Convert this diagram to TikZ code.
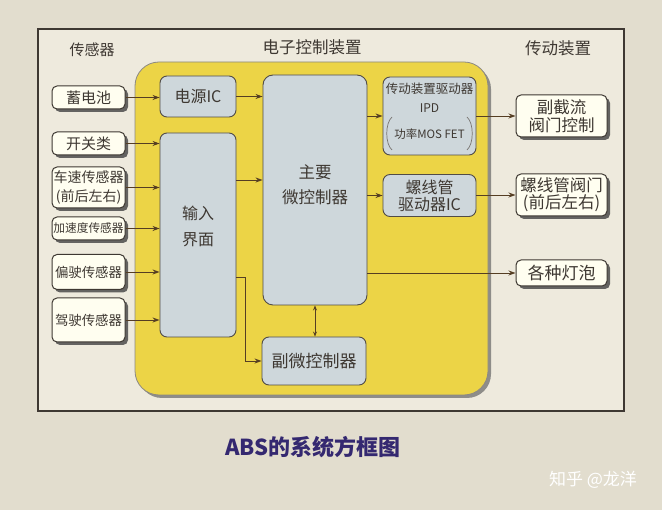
\documentclass[tikz,border=0pt]{standalone}
\usepackage{fontspec}
\setmainfont{Noto Sans CJK SC}
\usetikzlibrary{shadows,arrows.meta}
\definecolor{pagebg}{RGB}{226,221,206}
\definecolor{framebg}{RGB}{238,234,221}
\definecolor{ylw}{RGB}{236,212,70}
\definecolor{lblue}{RGB}{206,215,219}
\definecolor{ink}{RGB}{62,56,50}
\definecolor{lineclr}{RGB}{85,62,35}
\definecolor{titleclr}{RGB}{52,40,112}
\newcommand\fsz[2]{\fontsize{#1}{#2}\selectfont}
\tikzset{
  wbox/.style={draw=ink, line width=1pt, fill=white!94!yellow, rounded corners=5pt,
    drop shadow={shadow xshift=3pt, shadow yshift=-3pt, fill=black!70, opacity=0.85},
    inner sep=0pt, text=ink, align=center, minimum width=73pt},
  rbox/.style={wbox, minimum width=91pt},
  bbox/.style={draw=ink!90, line width=0.9pt, fill=lblue, rounded corners=7pt,
    inner sep=0pt, text=ink, align=center},
  ylwbox/.style={draw=ink!60, line width=0.8pt, fill=ylw, rounded corners=24pt,
    drop shadow={shadow xshift=3pt, shadow yshift=-3pt, fill=black!60, opacity=0.7}, inner sep=0pt},
  txt/.style={text=ink, inner sep=0pt, align=center},
  arr/.style={draw=lineclr, line width=0.9pt, -{Stealth[length=7pt,width=5pt]}},
  dbl/.style={draw=lineclr, line width=0.9pt, {Stealth[length=5pt,width=4pt]}-{Stealth[length=5pt,width=4pt]}},
  brk/.style={draw=ink!70, line width=0.7pt}
}
\begin{document}
\begin{tikzpicture}[x=1pt,y=-1pt]
\useasboundingbox (0,0) rectangle (662,510);
\fill[pagebg] (0,0) rectangle (662,510);
\draw[fill=framebg, draw=ink, line width=1.3pt] (38,29) rectangle (624,411);

% headers
\node[txt, font=\fsz{15}{18}] (h1) at (92,50) {传感器};
\node[txt, font=\fsz{16.5}{20}] (h2) at (312,47) {电子控制装置};
\node[txt, font=\fsz{16.5}{20}] (h3) at (558,48) {传动装置};

% ECU region
\node[ylwbox, minimum width=353pt, minimum height=333pt] (ecu) at (311.5,228.5) {};

% sensors
\node[wbox, minimum height=23pt, font=\fsz{15}{18}] (bat) at (88.5,97.5) {蓄电池};
\node[wbox, minimum height=23pt, font=\fsz{15}{18}] (sw) at (88.5,143.5) {开关类};
\node[wbox, minimum height=41pt, font=\fsz{14}{19}] (spd) at (88.5,187.5) {车速传感器\\(前后左右)};
\node[wbox, minimum height=23pt, font=\fsz{11.7}{14}] (acc) at (88.5,228.5) {加速度传感器};
\node[wbox, minimum height=35pt, font=\fsz{13.4}{16}] (yaw) at (88.5,272) {偏驶传感器};
\node[wbox, minimum height=44pt, font=\fsz{13.4}{16}] (drv) at (88.5,320) {驾驶传感器};

% ECU blocks
\node[bbox, minimum width=76pt, minimum height=41pt, font=\fsz{16}{19}] (pic) at (198,96.5) {电源IC};
\node[bbox, minimum width=76pt, minimum height=204pt] (inp) at (198,235) {};
\node[txt, font=\fsz{16}{26}] (inptxt) at (198,226) {输入\\界面};
\node[bbox, rounded corners=10pt, minimum width=104pt, minimum height=230pt] (main) at (315,190) {};
\node[txt, font=\fsz{16.5}{25}] (maintxt) at (315,185) {主要\\微控制器};
\node[bbox, minimum width=104pt, minimum height=48pt, font=\fsz{17}{20}] (sub) at (314,361) {副微控制器};
\node[bbox, minimum width=93pt, minimum height=78pt] (ipd) at (429.5,116) {};
\node[txt, font=\fsz{12.5}{15}] (ipd1) at (429.5,89) {传动装置驱动器};
\node[txt, font=\fsz{12}{15}] (ipd2) at (429.5,108) {IPD};
\node[txt, font=\fsz{11.5}{14}] (ipd3) at (429.5,134) {功率MOS FET};
\draw[brk] (392,117) .. controls (385,123) and (385,144) .. (392,150);
\draw[brk] (467,117) .. controls (474,123) and (474,144) .. (467,150);
\node[bbox, minimum width=93pt, minimum height=42pt, font=\fsz{16}{17}] (sic) at (429.5,195.5) {螺线管\\驱动器IC};

% actuators
\node[rbox, minimum height=42pt, font=\fsz{16.5}{18}] (valve) at (561.5,116) {副截流\\阀门控制};
\node[rbox, minimum height=42pt, font=\fsz{16.5}{17}] (solv) at (561.5,195) {螺线管阀门\\(前后左右)};
\node[rbox, minimum height=26pt, font=\fsz{17}{20}] (lamp) at (561.5,273) {各种灯泡};

% connectors
\draw[arr] (bat.east) -- (bat.east -| pic.west);
\draw[arr] (pic.east) -- (pic.east -| main.west);
\foreach \s in {sw,spd,acc,yaw,drv} \draw[arr] (\s.east) -- (\s.east -| inp.west);
\coordinate (c1) at (0,180);
\draw[arr] (inp.east |- c1) -- (main.west |- c1);
\coordinate (c2) at (245,277);
\draw[arr] (inp.east |- c2) -- (c2) |- (sub.west);
\draw[dbl] (main.south) -- (main.south |- sub.north);
\draw[arr] (main.east |- ipd.west) -- (ipd.west);
\draw[arr] (main.east |- sic.west) -- (sic.west);
\draw[arr] (ipd.east) -- (valve.west);
\draw[arr] (sic.east |- solv.west) -- (solv.west);
\draw[arr] (main.east |- lamp.west) -- (lamp.west);

% caption
\node[text=titleclr, inner sep=0pt, font=\bfseries\fsz{22}{26}] (title) at (313,447) {ABS的系统方框图};
\node[text=white, inner sep=0pt, font=\fsz{17}{20}] (wm) at (593,480) {知乎 @龙洋};
\end{tikzpicture}
\end{document}
